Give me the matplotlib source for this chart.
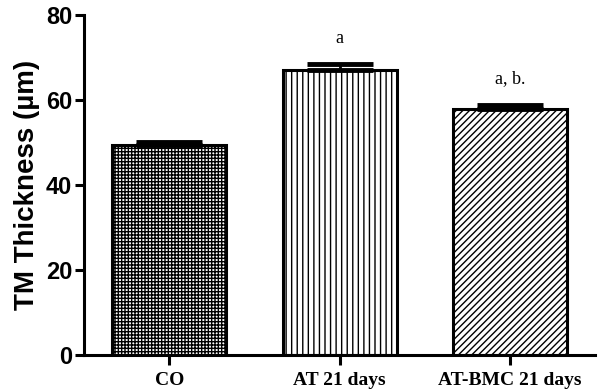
import matplotlib.pyplot as plt

groups = ['CO', 'AT 21 days', 'AT-BMC 21 days']
means = [49.4, 67.1, 57.9]
errs = [0.6, 1.4, 1.0]
marks = ['', 'a', 'a, b.']
hatches = ['+++++', '|||', '/////']

plt.rcParams['hatch.linewidth'] = 1.0

fig = plt.figure(figsize=(6, 3.91), dpi=100)
ax = fig.add_axes([0.14, 0.092, 0.852, 0.87])

x = range(len(groups))
bars = ax.bar(x, means, width=0.67, color='white', edgecolor='black',
              linewidth=2.2, zorder=2)
for b, h in zip(bars, hatches):
    b.set_hatch(h)

ax.errorbar(x, means, yerr=[[0] * len(errs), errs], fmt='none', ecolor='black',
            elinewidth=2, capsize=24, capthick=3.5, zorder=3)

for xi, m, e, lab in zip(x, means, errs, marks):
    if lab:
        ax.text(xi, m + e + 6.0, lab, ha='center', va='center',
                family='Liberation Serif', fontsize=13)

ax.set_xlim(-0.5, 2.5)
ax.set_ylim(0, 80)
ax.set_yticks([0, 20, 40, 60, 80])
ax.set_xticks(list(x))
ax.set_xticklabels(groups, family='Liberation Serif', fontweight='bold', fontsize=14)
for t in ax.get_yticklabels():
    t.set_family('Liberation Sans')
    t.set_fontweight('bold')
    t.set_fontsize(17)
ax.set_ylabel('TM Thickness (µm)', family='Liberation Sans', fontweight='bold',
              fontsize=20, labelpad=4)

for s in ['top', 'right']:
    ax.spines[s].set_visible(False)
for s in ['left', 'bottom']:
    ax.spines[s].set_linewidth(2.2)
ax.tick_params(axis='y', width=2.2, length=6.5, pad=2)
ax.tick_params(axis='x', width=2.2, length=7, pad=5)

fig.savefig('out.png', dpi=100)
